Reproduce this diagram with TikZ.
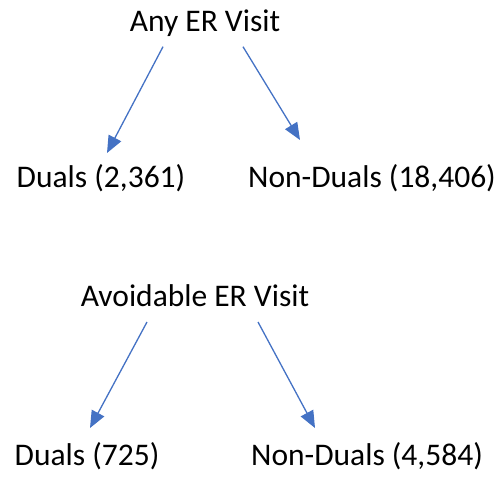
\documentclass[tikz,border=0pt]{standalone}
\usepackage{fontspec}
\setmainfont{Carlito}
\usetikzlibrary{arrows.meta}
\definecolor{arrowblue}{HTML}{4472C4}
\begin{document}
\begin{tikzpicture}
  [x=1bp,y=-1bp,
   label/.style={anchor=base,inner sep=0,outer sep=0,
                 font=\fontsize{31.5bp}{36bp}\selectfont},
   link/.style={draw=arrowblue,line width=1.3bp,
                -{Triangle[length=17bp,width=14bp]}}]
  \useasboundingbox (0,0) rectangle (503,481);
  % any ER visit
  \node[label] (any) at (205,31.7) {Any ER Visit};
  \node[label] (dualsany) at (101,188) {Duals (2,361)};
  \node[label] (nondualsany) at (372,188) {Non-Duals (18,406)};
  % avoidable ER visit
  \node[label] (avoid) at (195,306) {Avoidable ER Visit};
  \node[label] (dualsavoid) at (87,465) {Duals (725)};
  \node[label] (nondualsavoid) at (367,465) {Non-Duals (4,584)};
  \draw[link] ([xshift=-42bp,yshift=-15bp]any.base) to ([xshift=6bp,yshift=35bp]dualsany.base);
  \draw[link] ([xshift=38bp,yshift=-15bp]any.base) to ([xshift=-72bp,yshift=48bp]nondualsany.base);
  \draw[link] ([xshift=-48bp,yshift=-16bp]avoid.base) to ([xshift=3bp,yshift=37bp]dualsavoid.base);
  \draw[link] ([xshift=63bp,yshift=-16bp]avoid.base) to ([xshift=-52bp,yshift=37bp]nondualsavoid.base);
\end{tikzpicture}
\end{document}
